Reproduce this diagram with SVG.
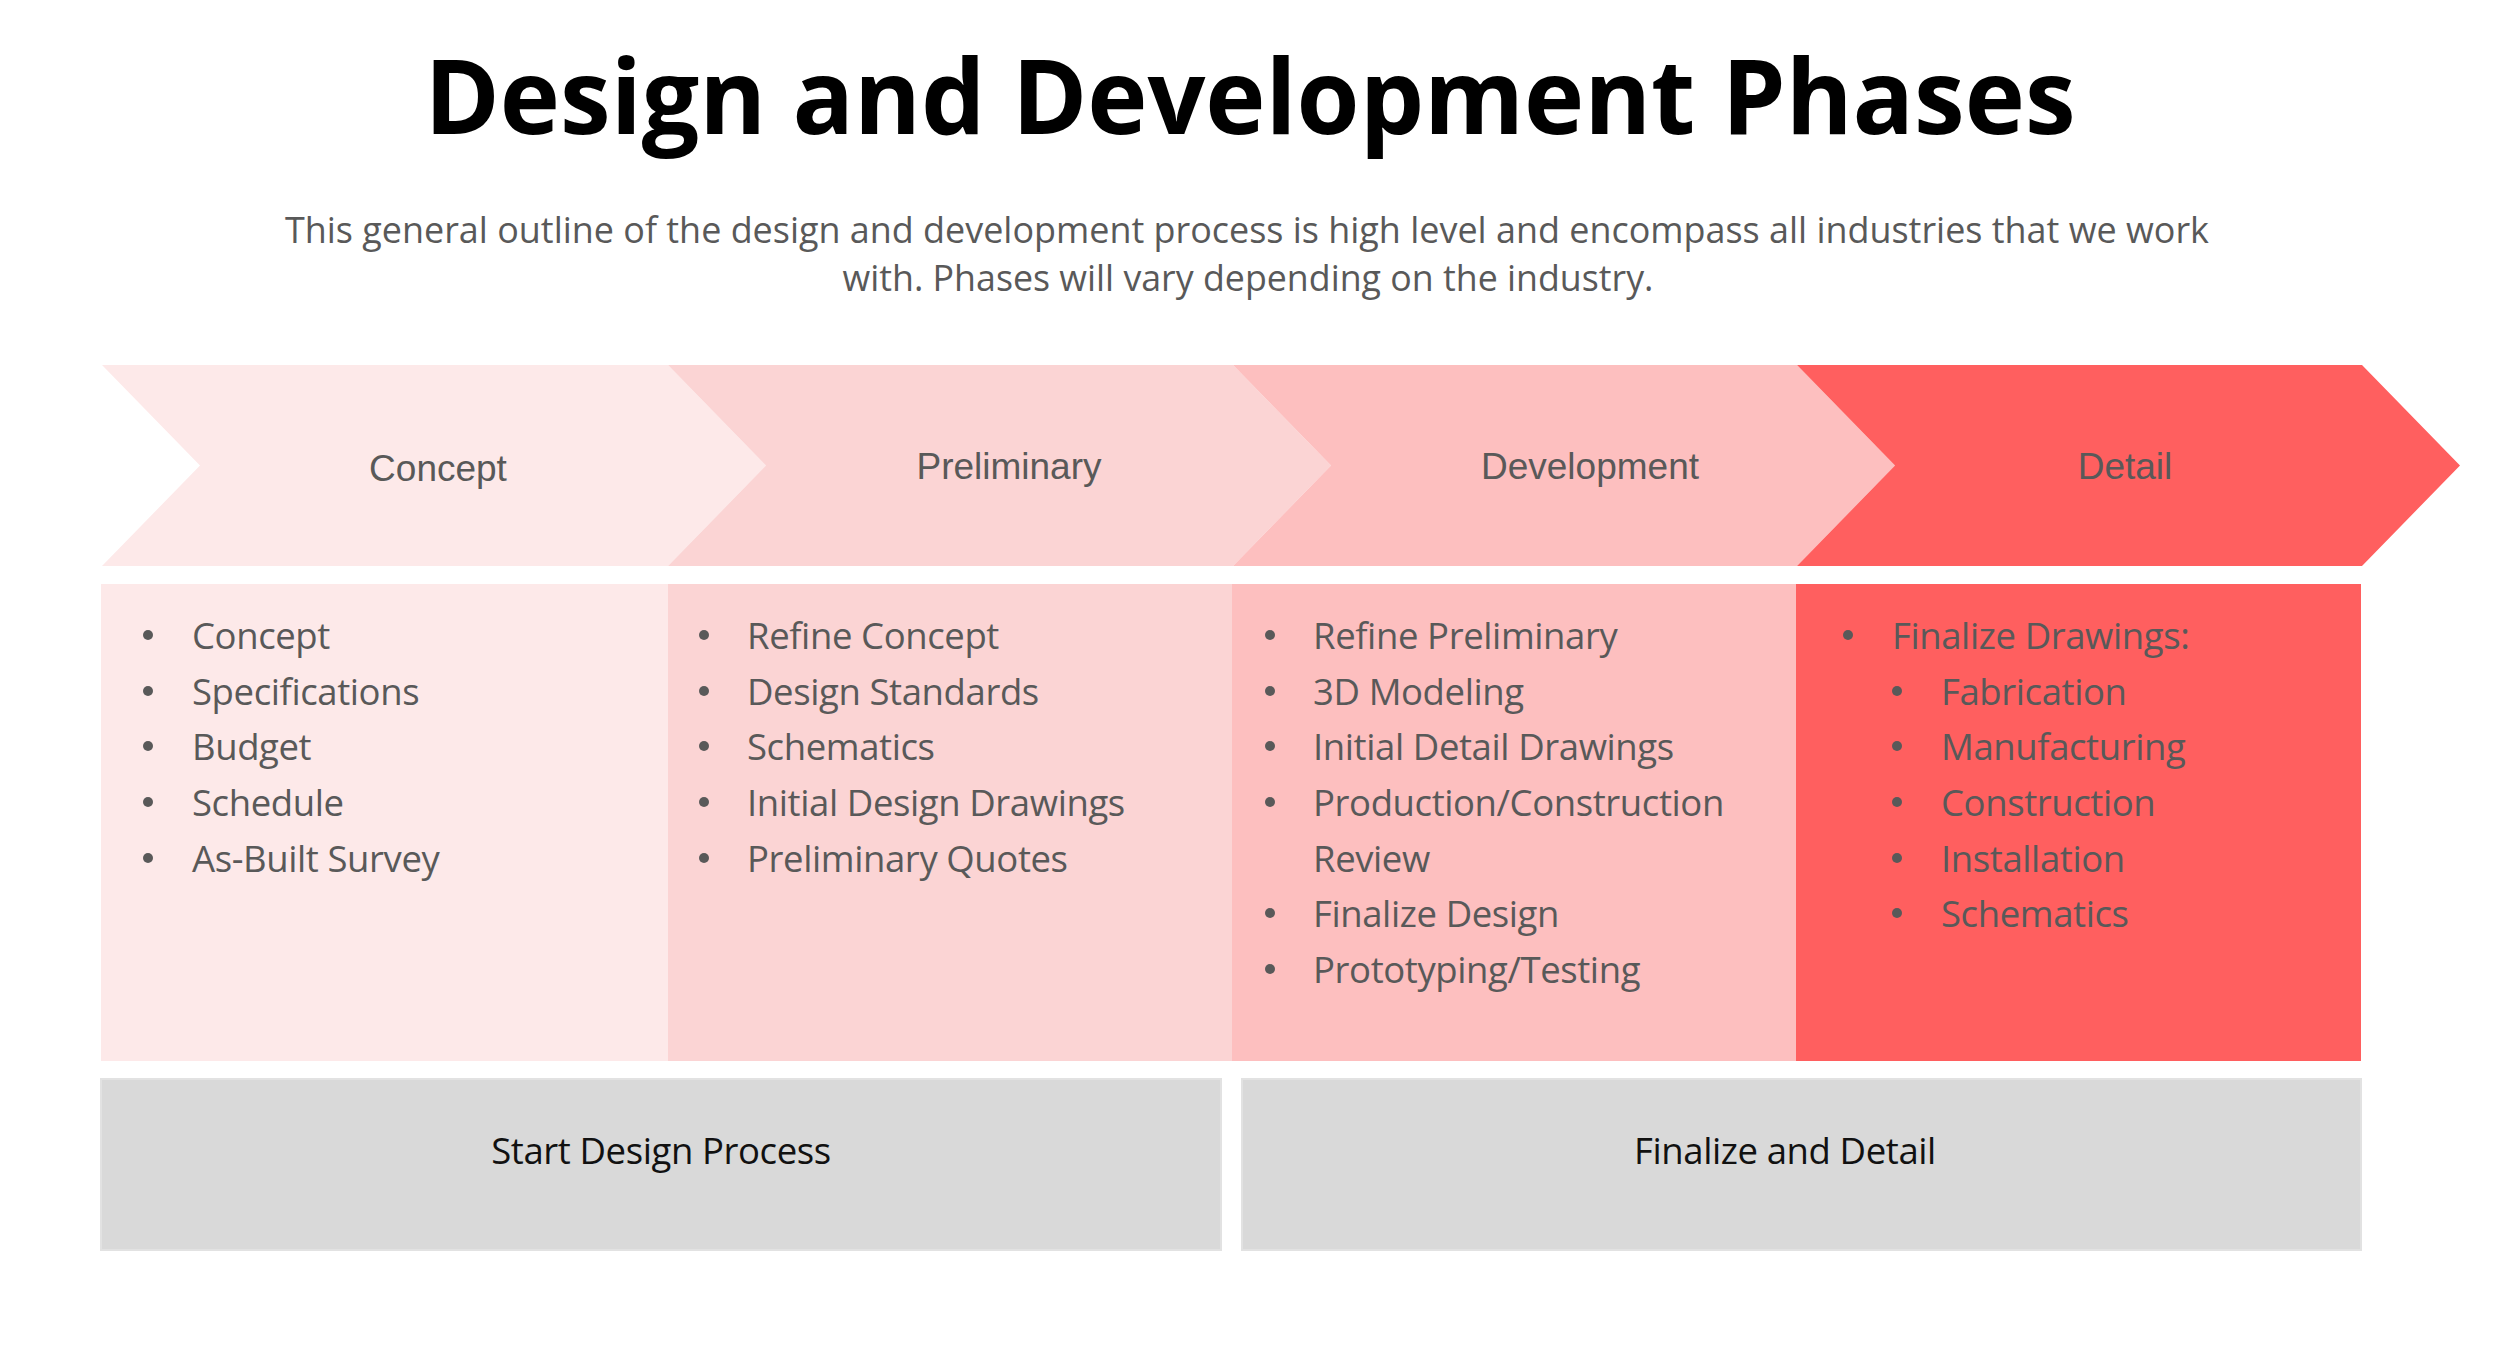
<svg xmlns="http://www.w3.org/2000/svg" width="2500" height="1370" viewBox="0 0 2500 1370">
<style>
.title{font-family:"Open Sans","Noto Sans",sans-serif;font-weight:700;font-size:104px;fill:#000;}
.sub{font-family:"Open Sans","Noto Sans",sans-serif;font-size:36px;fill:#595959;}
.lbl{font-family:"Liberation Sans",Arial,sans-serif;font-size:37px;fill:#595959;text-anchor:middle;}
.item{font-family:"Open Sans","Noto Sans",sans-serif;font-size:36.5px;fill:#595959;letter-spacing:-0.4px;}
.dot{fill:#595959;}
.foot{font-family:"Open Sans","Noto Sans",sans-serif;font-size:36.5px;fill:#111;text-anchor:middle;letter-spacing:-0.4px;}
.gray{fill:#D9D9D9;stroke:#E2E2E2;stroke-width:2;}
</style>
<rect width="2500" height="1370" fill="#fff"/>
<g id="title">
<text class="title" x="1250" y="134" text-anchor="middle" textLength="1651" lengthAdjust="spacingAndGlyphs">Design and Development Phases</text>
</g>
<g id="subtitle">
<text class="sub" x="1247" y="243" text-anchor="middle" textLength="1924" lengthAdjust="spacingAndGlyphs">This general outline of the design and development process is high level and encompass all industries that we work</text>
<text class="sub" x="1248" y="291" text-anchor="middle" textLength="811" lengthAdjust="spacingAndGlyphs">with. Phases will vary depending on the industry.</text>
</g>
<g id="phase-concept">
<polygon points="102,365 668,365 766,465.5 668,566 102,566 200,465.5" fill="#FDE9E9"/>
<text class="lbl" x="438" y="481">Concept</text>
</g>
<g id="phase-preliminary">
<polygon points="668,365 1233,365 1331,465.5 1233,566 668,566 766,465.5" fill="#FBD4D4"/>
<text class="lbl" x="1009" y="479">Preliminary</text>
</g>
<g id="phase-development">
<polygon points="1233,365 1797,365 1895,465.5 1797,566 1233,566 1331,465.5" fill="#FDBFBF"/>
<text class="lbl" x="1590" y="479">Development</text>
</g>
<g id="phase-detail">
<polygon points="1797,365 2362,365 2460,465.5 2362,566 1797,566 1895,465.5" fill="#FF5F5F"/>
<text class="lbl" x="2125" y="479">Detail</text>
</g>
<g id="list-concept">
<rect x="101" y="584" width="567" height="477" fill="#FDE9E9"/>
<circle class="dot" cx="148" cy="635" r="5"/><text class="item" x="192" y="649">Concept</text>
<circle class="dot" cx="148" cy="691" r="5"/><text class="item" x="192" y="705">Specifications</text>
<circle class="dot" cx="148" cy="746" r="5"/><text class="item" x="192" y="760">Budget</text>
<circle class="dot" cx="148" cy="802" r="5"/><text class="item" x="192" y="816">Schedule</text>
<circle class="dot" cx="148" cy="858" r="5"/><text class="item" x="192" y="872">As-Built Survey</text>
</g>
<g id="list-preliminary">
<rect x="668" y="584" width="564" height="477" fill="#FBD4D4"/>
<circle class="dot" cx="704" cy="635" r="5"/><text class="item" x="747" y="649">Refine Concept</text>
<circle class="dot" cx="704" cy="691" r="5"/><text class="item" x="747" y="705">Design Standards</text>
<circle class="dot" cx="704" cy="746" r="5"/><text class="item" x="747" y="760">Schematics</text>
<circle class="dot" cx="704" cy="802" r="5"/><text class="item" x="747" y="816">Initial Design Drawings</text>
<circle class="dot" cx="704" cy="858" r="5"/><text class="item" x="747" y="872">Preliminary Quotes</text>
</g>
<g id="list-development">
<rect x="1232" y="584" width="564" height="477" fill="#FDBFBF"/>
<circle class="dot" cx="1270" cy="635" r="5"/><text class="item" x="1313" y="649">Refine Preliminary</text>
<circle class="dot" cx="1270" cy="691" r="5"/><text class="item" x="1313" y="705">3D Modeling</text>
<circle class="dot" cx="1270" cy="746" r="5"/><text class="item" x="1313" y="760">Initial Detail Drawings</text>
<circle class="dot" cx="1270" cy="802" r="5"/><text class="item" x="1313" y="816">Production/Construction</text>
<text class="item" x="1313" y="872">Review</text>
<circle class="dot" cx="1270" cy="913" r="5"/><text class="item" x="1313" y="927">Finalize Design</text>
<circle class="dot" cx="1270" cy="969" r="5"/><text class="item" x="1313" y="983">Prototyping/Testing</text>
</g>
<g id="list-detail">
<rect x="1796" y="584" width="565" height="477" fill="#FF5F5F"/>
<circle class="dot" cx="1848" cy="635" r="5"/><text class="item" x="1892" y="649">Finalize Drawings:</text>
<circle class="dot" cx="1897" cy="691" r="5"/><text class="item" x="1941" y="705">Fabrication</text>
<circle class="dot" cx="1897" cy="746" r="5"/><text class="item" x="1941" y="760">Manufacturing</text>
<circle class="dot" cx="1897" cy="802" r="5"/><text class="item" x="1941" y="816">Construction</text>
<circle class="dot" cx="1897" cy="858" r="5"/><text class="item" x="1941" y="872">Installation</text>
<circle class="dot" cx="1897" cy="913" r="5"/><text class="item" x="1941" y="927">Schematics</text>
</g>
<g id="stage-start">
<rect class="gray" x="101" y="1079" width="1120" height="171"/>
<text class="foot" x="661" y="1164">Start Design Process</text>
</g>
<g id="stage-finalize">
<rect class="gray" x="1242" y="1079" width="1119" height="171"/>
<text class="foot" x="1785" y="1164">Finalize and Detail</text>
</g>
<g id="connectors"></g>
</svg>
